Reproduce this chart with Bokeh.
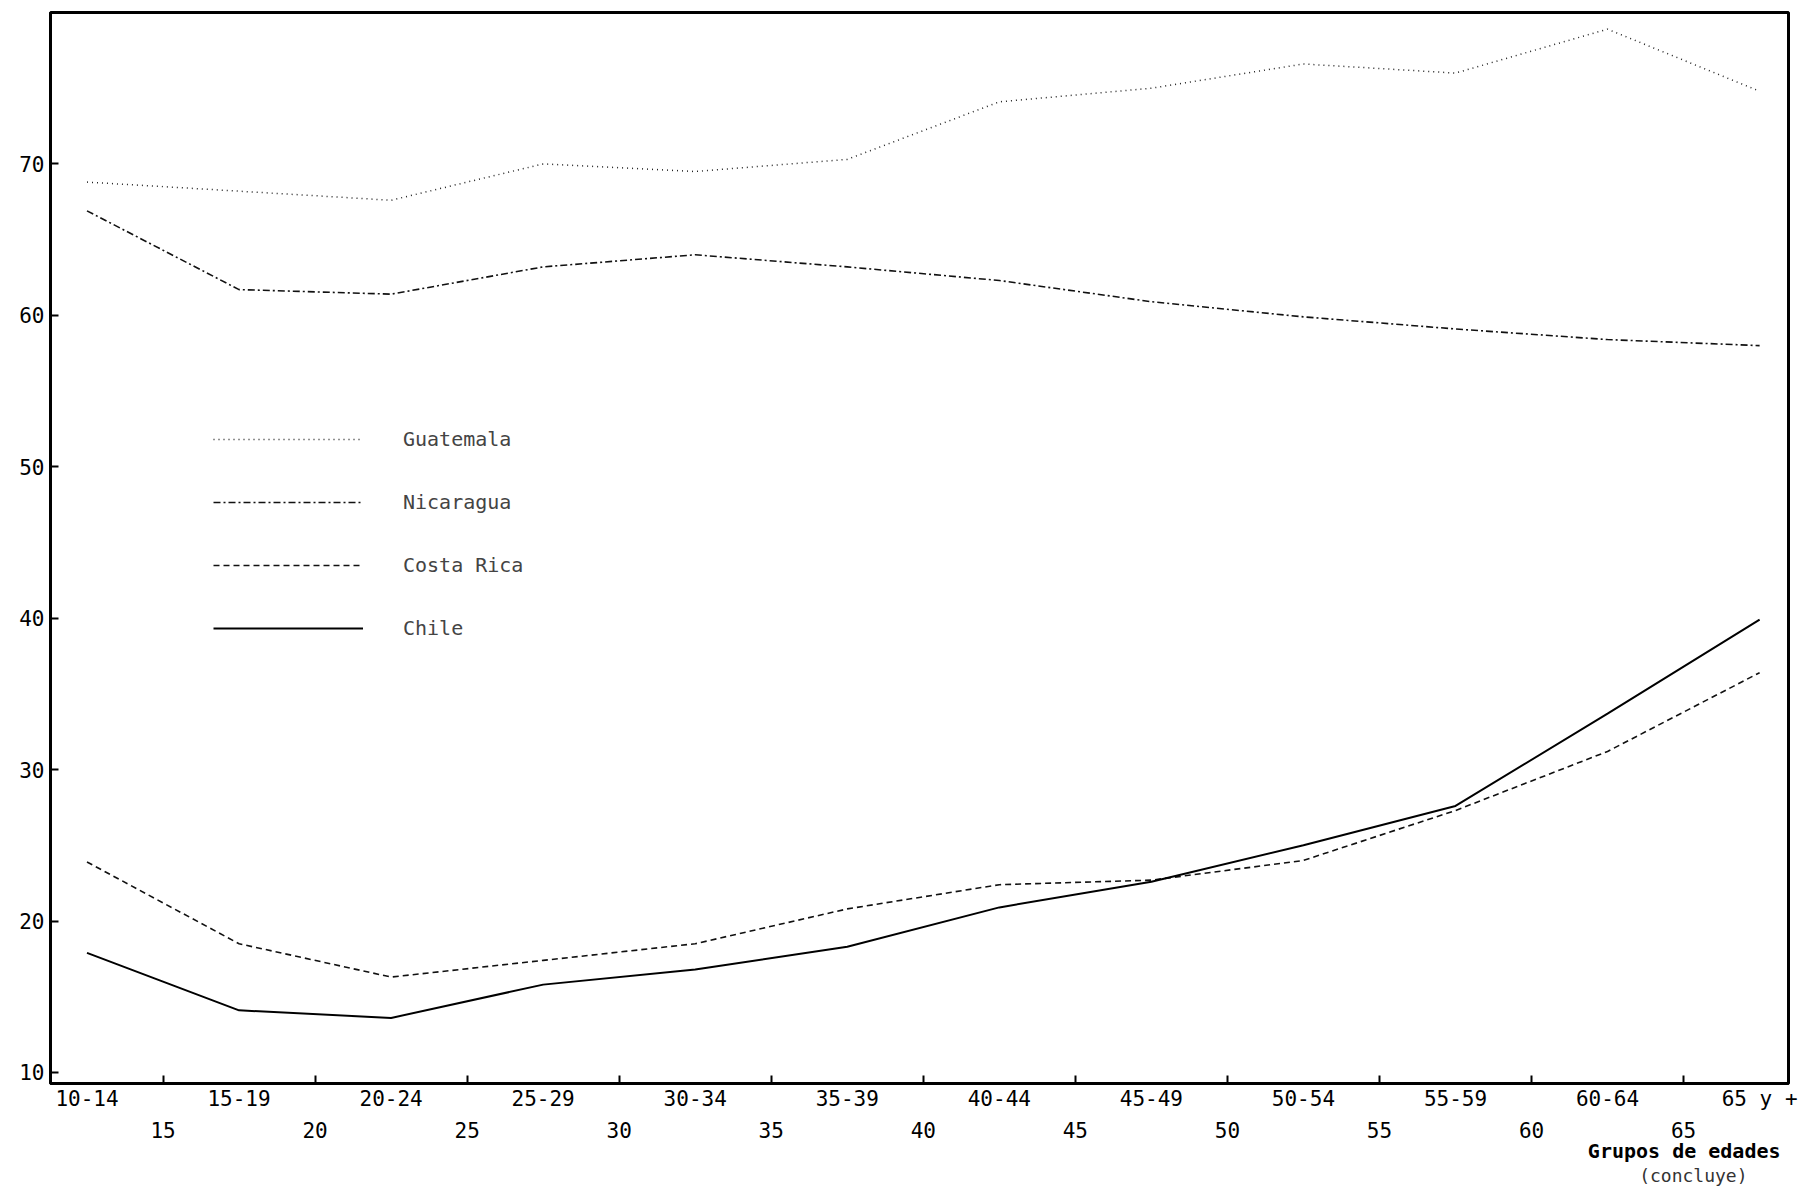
from bokeh.plotting import figure
from bokeh.models import Range1d, FixedTicker, LinearAxis, Legend, LegendItem, Title
from bokeh.embed import file_html
from bokeh.resources import INLINE

# ---- data ----
groups = ["10-14", "15-19", "20-24", "25-29", "30-34", "35-39",
          "40-44", "45-49", "50-54", "55-59", "60-64", "65 y +"]
bounds = ["15", "20", "25", "30", "35", "40", "45", "50", "55", "60", "65"]
guatemala = [68.8, 68.2, 67.6, 70.0, 69.5, 70.3, 74.1, 75.0, 76.6, 76.0, 78.9, 74.8]
nicaragua = [66.9, 61.7, 61.4, 63.2, 64.0, 63.2, 62.3, 60.9, 59.9, 59.1, 58.4, 58.0]
costa_rica = [23.9, 18.5, 16.3, 17.4, 18.5, 20.8, 22.4, 22.7, 24.0, 27.3, 31.2, 36.4]
chile = [17.9, 14.1, 13.6, 15.8, 16.8, 18.3, 20.9, 22.6, 25.0, 27.6, 33.7, 39.9]
y_ticks = [10, 20, 30, 40, 50, 60, 70]

xs = list(range(len(groups)))
FONT = "DejaVu Sans Mono"

p = figure(width=1798, height=1190,
           x_range=Range1d(-0.24, 11.19), y_range=Range1d(9.27, 80.0),
           output_backend="svg", toolbar_location=None,
           x_axis_location=None, y_axis_location=None,
           min_border_left=50, min_border_top=12, min_border_right=10,
           min_border_bottom=107)
p.grid.visible = False
p.outline_line_color = "black"
p.outline_line_width = 3
p.background_fill_color = "white"
p.border_fill_color = "white"

# lines
r_g = p.line(xs, guatemala, line_color="#222222", line_width=1.5, line_dash="1 4")
r_n = p.line(xs, nicaragua, line_color="#111111", line_width=1.6, line_dash="7 3 2 3")
r_c = p.line(xs, costa_rica, line_color="#111111", line_width=1.6, line_dash="6 4")
r_h = p.line(xs, chile, line_color="#000000", line_width=2.0)

# left axis
yax = LinearAxis(ticker=FixedTicker(ticks=y_ticks))
yax.axis_line_width = 3
yax.major_tick_in = 8
yax.major_tick_out = 0
yax.major_tick_line_width = 2
yax.minor_tick_line_color = None
yax.major_label_standoff = 6
yax.major_label_text_font = FONT
yax.major_label_text_font_size = "21px"
yax.major_label_text_color = "black"
p.add_layout(yax, "left")

# bottom axis: group labels at centres, ticks at the class limits
xax1 = LinearAxis(ticker=FixedTicker(ticks=xs, minor_ticks=[i + 0.5 for i in range(len(bounds))]))
xax1.major_label_overrides = {i: g for i, g in enumerate(groups)}
xax1.axis_line_width = 3
xax1.major_tick_in = 0
xax1.major_tick_out = 0
xax1.minor_tick_in = 8
xax1.minor_tick_out = 0
xax1.minor_tick_line_width = 2
xax1.major_label_standoff = 3
xax1.major_label_text_font = FONT
xax1.major_label_text_font_size = "21px"
xax1.major_label_text_color = "black"
p.add_layout(xax1, "below")

xax2 = LinearAxis(ticker=FixedTicker(ticks=[i + 0.5 for i in range(len(bounds))]))
xax2.major_label_overrides = {i + 0.5: b for i, b in enumerate(bounds)}
xax2.axis_line_color = None
xax2.major_tick_line_color = None
xax2.minor_tick_line_color = None
xax2.major_label_standoff = 2
xax2.major_label_text_font = FONT
xax2.major_label_text_font_size = "21px"
xax2.major_label_text_color = "black"
p.add_layout(xax2, "below")

# axis caption below, right-aligned
p.add_layout(Title(text="Grupos de edades", align="right", offset=8, standoff=-8,
                   text_font=FONT, text_font_style="bold", text_font_size="20px",
                   text_color="black"), "below")
p.add_layout(Title(text="(concluye)", align="right", offset=41, standoff=8,
                   text_font=FONT, text_font_style="normal", text_font_size="18px",
                   text_color="#333333"), "below")

# legend inside the plot
legend = Legend(items=[
    LegendItem(label="Guatemala", renderers=[r_g]),
    LegendItem(label="Nicaragua", renderers=[r_n]),
    LegendItem(label="Costa Rica", renderers=[r_c]),
    LegendItem(label="Chile", renderers=[r_h]),
], location=(163, 443), glyph_width=150, glyph_height=20, label_height=20,
    spacing=39, padding=0, margin=0, label_standoff=40,
    border_line_color=None, background_fill_alpha=0,
    label_text_font=FONT, label_text_font_size="20px")
p.add_layout(legend)

open("out.html", "w").write(file_html(p, INLINE))
